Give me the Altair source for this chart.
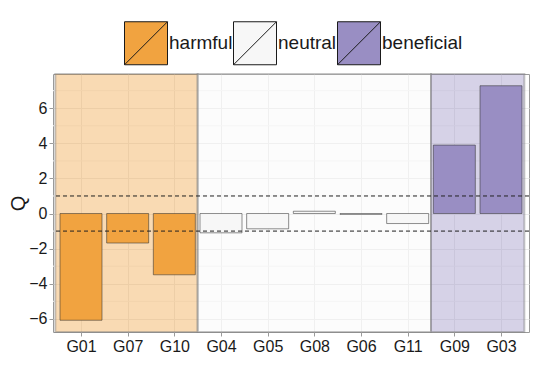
import json
import altair as alt
import pandas as pd

# ---- data ----
genes = ["G01", "G07", "G10", "G04", "G05", "G08", "G06", "G11", "G09", "G03"]
q_values = [-6.08, -1.68, -3.49, -1.10, -0.87, 0.13, -0.05, -0.57, 3.90, 7.28]
groups = ["harmful", "harmful", "harmful", "neutral", "neutral", "neutral",
          "neutral", "neutral", "beneficial", "beneficial"]

group_names = ["harmful", "neutral", "beneficial"]
group_colors = ["#f1a340", "#f7f7f7", "#998ec3"]
region_start = [0.45, 3.5, 8.5]
region_end = [3.5, 8.5, 10.5]

thresholds = [-1, 1]
y_major = [-6, -4, -2, 0, 2, 4, 6]
y_minor = [-5, -3, -1, 1, 3, 5, 7]

bars = pd.DataFrame({
    "gene": genes,
    "idx": list(range(1, len(genes) + 1)),
    "Q": q_values,
    "group": groups,
})
regions = pd.DataFrame({"group": group_names, "start": region_start, "end": region_end})
thr = pd.DataFrame({"y": thresholds})
minor = pd.DataFrame({"y": y_minor})

FONT = "Liberation Sans"
W, H = 476, 258
xdom = [0.4, 10.6]
ydom = [-6.75, 7.95]

label_expr = json.dumps(genes) + "[datum.value - 1]"

xscale = alt.Scale(domain=xdom, nice=False, zero=False)
yscale = alt.Scale(domain=ydom, nice=False, zero=False)

x_axis = alt.Axis(values=list(range(1, 11)), labelExpr=label_expr, title=None,
                  labelFontSize=16, labelColor="#1a1a1a", labelFont=FONT,
                  tickColor="#9a9a9a", tickSize=4, labelPadding=2,
                  grid=True, gridColor="#ebebeb", domain=False)
y_axis = alt.Axis(values=y_major, title="Q", titleFontSize=20, titleFont=FONT,
                  titleFontWeight="normal", titleColor="#1a1a1a", titlePadding=0,
                  labelFontSize=16, labelColor="#1a1a1a", labelFont=FONT,
                  tickColor="#9a9a9a", tickSize=4, labelPadding=2,
                  grid=True, gridColor="#ebebeb", domain=False)

minor_grid = alt.Chart(minor).mark_rule(color="#f4f4f4", strokeWidth=1).encode(
    y=alt.Y("y:Q", scale=yscale, axis=y_axis)
)

bg = alt.Chart(regions).mark_rect(fillOpacity=0.4, stroke="#808080",
                                   strokeOpacity=0.45, strokeWidth=2).encode(
    x=alt.X("start:Q", scale=xscale, axis=x_axis),
    x2="end:Q",
    y=alt.value(0),
    y2=alt.value(H),
    fill=alt.Fill("group:N", scale=alt.Scale(domain=group_names, range=group_colors),
                  legend=None),
)

bar_layer = alt.Chart(bars).transform_calculate(
    x0="datum.idx - 0.45", x1="datum.idx + 0.45", base="0"
).mark_rect(stroke="#333333", strokeOpacity=0.55, strokeWidth=1).encode(
    x=alt.X("x0:Q", scale=xscale, axis=x_axis),
    x2="x1:Q",
    y=alt.Y("base:Q", scale=yscale, axis=y_axis),
    y2="Q:Q",
    fill=alt.Fill("group:N",
                  scale=alt.Scale(domain=group_names, range=group_colors),
                  legend=alt.Legend(
                      title=None, orient="none", direction="horizontal", columns=3,
                      legendX=71, legendY=-53,
                      symbolType="M-1,-1H1V1H-1Z M-1,1L1,-1",
                      symbolSize=1849, symbolStrokeColor="#1a1a1a",
                      symbolStrokeWidth=1, symbolOpacity=1,
                      labelFontSize=19, labelFont=FONT, labelColor="#1a1a1a",
                      labelOffset=1, columnPadding=-3, padding=0,
                  )),
)

rules = alt.Chart(thr).mark_rule(color="#222222", strokeDash=[4, 3], strokeWidth=1).encode(
    y=alt.Y("y:Q", scale=yscale, axis=y_axis)
)

chart = alt.layer(minor_grid, bg, bar_layer, rules).resolve_scale(
    fill="independent"
).properties(
    width=W, height=H,
    autosize=alt.AutoSizeParams(type="none"),
    padding={"left": 45, "top": 66, "right": 2, "bottom": 30},
).configure_view(
    stroke="#9a9a9a", strokeWidth=1
)

chart.save("out.html", embed_options={"renderer": "svg", "actions": False})
